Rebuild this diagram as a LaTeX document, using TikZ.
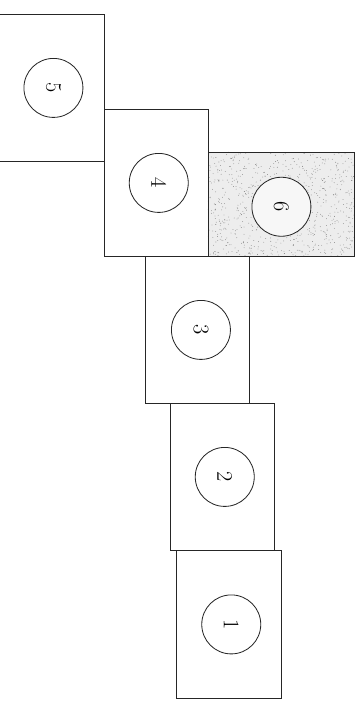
\documentclass[tikz,border=0pt]{standalone}
\usetikzlibrary{positioning}
\begin{document}
\begin{tikzpicture}[x=0.03cm, y=-0.03cm, font=\fontsize{19}{22}\selectfont]
	% Stile
	\tikzset{
		feld/.style={draw=black!85, line width=0.7pt, anchor=north west, inner sep=0pt,
			minimum width=3.12cm, minimum height=4.41cm},
		feldquer/.style={feld, minimum width=4.38cm, minimum height=3.12cm},
		nummer/.style={draw=black!85, line width=0.7pt, circle, minimum size=1.77cm,
			inner sep=0pt, rotate=-90},
	}
	\useasboundingbox (0,0) rectangle (363,704);
	
	% Punktierte Fläche (Feld 6)
	\fill[black!7] (208,152) rectangle (354,256);
	\pgfmathsetseed{42}
	\foreach \i in {1,...,800}
		\fill[black!50] (208+146*rnd, 152+104*rnd) circle (0.35pt);
	
	% Felder
	\node[feld, minimum width=3.27cm] (f5) at (-5,14) {};
	\node[feld] (f4) at (104,109) {};
	\node[feldquer] (f6) at (208,152) {};
	\node[feld] (f3) at (145,256) {};
	\node[feld] (f2) at (170,403) {};
	\node[feld, minimum width=3.15cm, minimum height=4.44cm] (f1) at (176,550) {};
	
	% Nummern
	\node[nummer, fill=white] (n5) at ([xshift=3]f5.center) {5};
	\node[nummer, fill=white] (n4) at ([xshift=2]f4.center) {4};
	\node[nummer, fill=black!3] (n6) at ([yshift=-2]f6.center) {6};
	\node[nummer, fill=white] (n3) at ([xshift=3]f3.center) {3};
	\node[nummer, fill=white] (n2) at ([xshift=2]f2.center) {2};
	\node[nummer, fill=white] (n1) at ([xshift=2]f1.center) {1};
\end{tikzpicture}
\end{document}
